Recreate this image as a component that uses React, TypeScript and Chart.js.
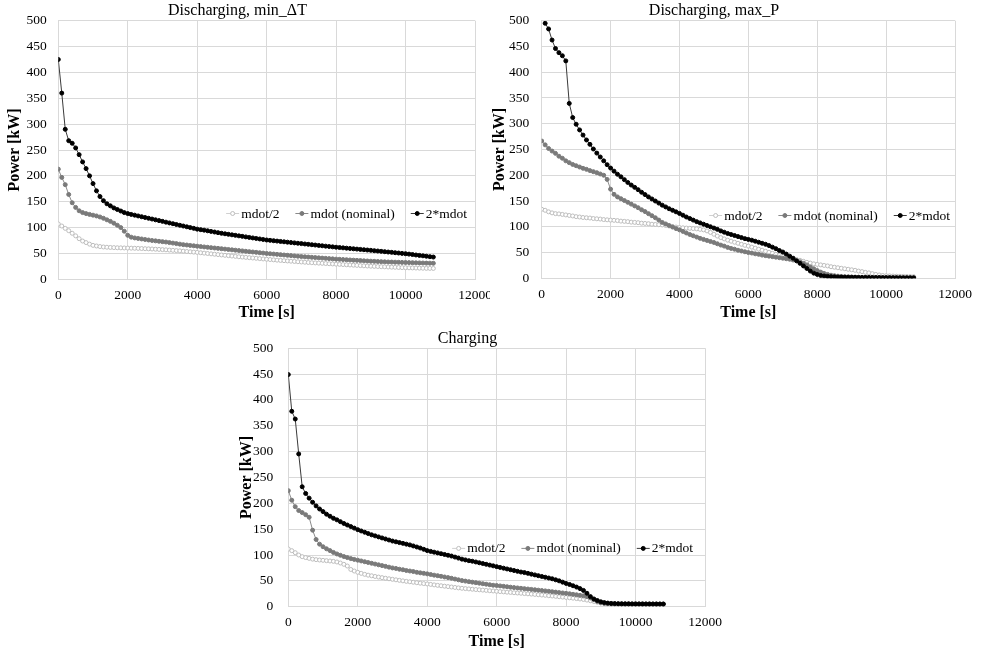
import React, { useEffect, useRef } from "react";
import { Chart, registerables } from "chart.js";

Chart.register(...registerables);

const TIME = [
  0, 100, 200, 300, 400, 500, 600, 700, 800, 900, 1000,
  1100, 1200, 1300, 1400, 1500, 1600, 1700, 1800, 1900, 2000,
  2100, 2200, 2300, 2400, 2500, 2600, 2700, 2800, 2900, 3000,
  3100, 3200, 3300, 3400, 3500, 3600, 3700, 3800, 3900, 4000,
  4100, 4200, 4300, 4400, 4500, 4600, 4700, 4800, 4900, 5000,
  5100, 5200, 5300, 5400, 5500, 5600, 5700, 5800, 5900, 6000,
  6100, 6200, 6300, 6400, 6500, 6600, 6700, 6800, 6900, 7000,
  7100, 7200, 7300, 7400, 7500, 7600, 7700, 7800, 7900, 8000,
  8100, 8200, 8300, 8400, 8500, 8600, 8700, 8800, 8900, 9000,
  9100, 9200, 9300, 9400, 9500, 9600, 9700, 9800, 9900, 10000,
  10100, 10200, 10300, 10400, 10500, 10600, 10700, 10800,
];

const SERIES_LABELS = ["mdot/2", "mdot (nominal)", "2*mdot"];
const CHART_TITLES = ["Discharging, min_\u0394T", "Discharging, max_P", "Charging"];
const X_TITLE = "Time [s]";
const Y_TITLE = "Power [kW]";

// ---- Discharging, min_ΔT ----
const D1_HALF = [
  107, 103, 98.5, 94, 89, 84, 78.5, 74, 71, 68, 65.6,
  64.4, 63.3, 62.5, 62, 61.6, 61.3, 61, 60.8, 60.6, 60.4,
  60.2, 60, 59.8, 59.5, 59.2, 58.9, 58.6, 58.2, 57.8, 57.4,
  57, 56.5, 56, 55.5, 55, 54.4, 53.8, 53.2, 52.6, 52,
  51.3, 50.6, 49.9, 49.2, 48.5, 47.8, 47.1, 46.4, 45.7, 45,
  44.3, 43.6, 43, 42.4, 41.8, 41.2, 40.6, 40, 39.4, 38.8,
  38.2, 37.6, 37, 36.5, 36, 35.5, 35, 34.5, 34, 33.5,
  33, 32.5, 32.1, 31.7, 31.3, 30.9, 30.5, 30.1, 29.7, 29.3,
  28.9, 28.5, 28.1, 27.7, 27.3, 26.9, 26.5, 26.1, 25.7, 25.3,
  25, 24.7, 24.4, 24.1, 23.8, 23.5, 23.2, 22.9, 22.6, 22.4,
  22.2, 22, 21.8, 21.6, 21.4, 21.2, 21.1, 21,
];
const D1_NOM = [
  213, 197, 183, 164, 148, 139, 132.5, 129, 127, 125.5, 124,
  122.5, 120.5, 118, 115, 112, 108.5, 104.5, 100, 93, 85,
  81.5, 80, 79, 78, 77, 76, 75, 74.3, 73.5, 72.8,
  72, 71, 70, 69, 68, 67, 66.3, 65.5, 64.8, 64,
  63.3, 62.6, 61.9, 61.2, 60.5, 59.8, 59.1, 58.4, 57.7, 57,
  56.3, 55.6, 54.9, 54.2, 53.5, 52.8, 52.1, 51.4, 50.7, 50,
  49.4, 48.8, 48.2, 47.6, 47, 46.4, 45.8, 45.2, 44.6, 44,
  43.5, 43, 42.5, 42, 41.5, 41, 40.5, 40, 39.5, 39,
  38.6, 38.2, 37.8, 37.4, 37, 36.6, 36.2, 35.8, 35.4, 35,
  34.7, 34.4, 34.1, 33.8, 33.5, 33.3, 33.1, 32.9, 32.7, 32.5,
  32.3, 32.1, 31.9, 31.7, 31.5, 31.3, 31.2, 31,
];
const D1_DOUBLE = [
  425, 360, 290, 268, 263, 254, 241, 227, 214, 200, 185,
  171, 160, 152, 146, 142, 138, 135, 132, 129, 127,
  125.5, 124, 122.5, 121, 119.5, 118, 116.5, 115, 113.5, 112,
  110.5, 109, 107.5, 106, 104.5, 103, 101.5, 100, 98.5, 97,
  96, 95, 93.8, 92.6, 91.4, 90.2, 89, 88, 87, 86,
  85, 84, 83, 82, 81, 80, 79, 78, 77, 76,
  75.3, 74.6, 73.9, 73.2, 72.5, 71.8, 71.1, 70.4, 69.7, 69,
  68.3, 67.6, 66.9, 66.2, 65.5, 64.8, 64.1, 63.4, 62.7, 62,
  61.4, 60.8, 60.2, 59.6, 59, 58.4, 57.8, 57.2, 56.6, 56,
  55.3, 54.7, 54, 53.4, 52.7, 52.1, 51.4, 50.8, 50.1, 49.5,
  48.7, 47.9, 47, 46.2, 45.4, 44.6, 43.8, 43,
];

// ---- Discharging, max_P ----
const D2_HALF = [
  134, 132, 129, 127, 125.5, 125, 124, 123, 122, 121, 119.7,
  119, 118, 117.5, 117, 116, 115.5, 115, 114, 113.5, 113,
  112.5, 112, 111, 110.5, 110, 109, 108.5, 108, 107, 106.5,
  106, 105, 104.5, 104, 103.5, 102.5, 101.5, 100.5, 99.5, 98.5,
  98, 97.5, 97, 96.5, 96, 95, 94, 92, 89, 85.5,
  82, 79, 76.5, 74, 72, 70, 68, 66, 64, 62.5,
  60.5, 58.5, 56.5, 54.5, 52.5, 50.5, 48.5, 46.5, 44.5, 42.5,
  41, 39.5, 38, 36.5, 35, 33, 31, 29.5, 28, 27,
  26, 25, 24, 22.5, 21.5, 20.5, 19.5, 18.5, 17.5, 16.5,
  15.5, 14, 13, 11.5, 10.5, 9, 7.5, 6.5, 5.5, 5,
  4.7, 4.4, 4.1, 3.9, 3.7, 3.5, 3.3, 3.1,
];
const D2_NOM = [
  266.5, 259, 252, 247, 242.5, 237, 233, 228, 224.5, 221, 218.5,
  216, 213.5, 211.5, 209, 207, 205, 202.5, 200, 192, 173,
  163, 158, 154.5, 151, 147.5, 144, 140.5, 137, 133, 129.5,
  125.5, 121.5, 117.5, 113, 108.5, 105.5, 102.5, 99.5, 96.5, 94,
  91, 88, 85, 82.5, 80, 77.5, 75.5, 73.5, 71.5, 69.5,
  67, 64.5, 62.5, 60, 58, 56.5, 54.5, 53, 51.5, 50,
  49, 47.5, 46.5, 45, 44, 43, 42, 41, 40, 39,
  38, 37, 35.5, 34, 32, 29, 26, 22, 18.5, 15,
  12, 9.5, 7.5, 6, 5, 4.2, 3.6, 3.2, 2.9, 2.6,
  2.4, 2.2, 2, 1.9, 1.8, 1.7, 1.6, 1.5, 1.45, 1.4,
  1.35, 1.3, 1.25, 1.2, 1.2, 1.15, 1.1, 1.1,
];
const D2_DOUBLE = [
  null, 495, 484, 462.5, 446, 438, 432, 422, 339.5, 312, 299,
  288, 278, 268.5, 260, 251, 243, 235.5, 228, 220.5, 214,
  208, 202, 197, 191.5, 186, 181, 176.5, 172, 167, 162.5,
  158, 154, 150, 146, 142, 138.5, 135, 132, 129, 126,
  122.5, 119, 116, 113, 110, 107.5, 105, 102.5, 100, 97.5,
  95, 92, 89.5, 87, 85, 83, 81, 79, 77, 75.5,
  74, 72, 70, 68, 66, 63.5, 60.5, 57.5, 54, 51,
  47, 43, 39, 34, 29, 24, 19, 14, 10, 7.5,
  5.5, 4.5, 3.7, 3.2, 2.8, 2.5, 2.3, 2.1, 2, 1.9,
  1.8, 1.7, 1.6, 1.55, 1.5, 1.45, 1.4, 1.35, 1.3, 1.25,
  1.2, 1.15, 1.1, 1.05, 1, 1, 0.95, 0.9,
];

// ---- Charging ----
const C_HALF = [
  111.6, 108.4, 104.5, 100, 96.8, 95, 93.5, 92, 91, 90.3, 89.7,
  89, 88.4, 87.7, 86.5, 84.5, 82, 78.7, 72, 69, 66.5,
  64.5, 62.6, 61, 59.8, 58.5, 57.3, 56.2, 55, 54, 53,
  52, 51, 50, 49, 48.2, 47.3, 46.4, 45.5, 44.7, 44,
  43.1, 42.2, 41.3, 40.5, 39.7, 38.9, 38.1, 37.2, 36.4, 35.6,
  35, 34.4, 33.8, 33.2, 32.7, 32.1, 31.5, 30.9, 30.4, 29.8,
  29.2, 28.7, 28.1, 27.6, 27, 26.5, 26, 25.4, 24.9, 24.4,
  23.8, 23.2, 22.6, 22, 21.3, 20.7, 20, 19.3, 18.6, 17.9,
  17.2, 16.5, 15.7, 14.9, 14, 12.8, 11.5, 10, 8.7, 7.5,
  6.6, 6, 5.7, 5.5, 5.4, 5.3, 5.3, 5.2, 5.2, 5.2,
  5.1, 5.1, 5.1, 5, 5, 5, 5, 5,
];
const C_NOM = [
  224.5, 206, 193.5, 186, 182, 178, 173, 148, 130, 121, 116,
  112, 108.5, 105, 102, 99.5, 97, 95, 93, 91.5, 90,
  88.5, 87, 85.5, 84, 82.5, 81, 79.5, 78, 76.5, 75,
  74, 72.5, 71.5, 70, 69, 68, 66.5, 65.5, 64.5, 63.5,
  62.3, 61, 60, 58.8, 57.5, 56.3, 55, 53.5, 52, 50.5,
  49.5, 48.5, 47.5, 46.5, 45.5, 44.5, 43.5, 42.5, 41.5, 41,
  40.2, 39.4, 38.6, 37.8, 37, 36.3, 35.6, 34.9, 34.2, 33.5,
  32.8, 32, 31.3, 30.6, 29.8, 29, 28.2, 27.4, 26.6, 25.8,
  25, 24, 23, 22, 21, 19.5, 17, 13.5, 10, 7.5,
  6.3, 5.8, 5.6, 5.5, 5.4, 5.4, 5.3, 5.3, 5.3, 5.2,
  5.2, 5.2, 5.1, 5.1, 5.1, 5.1, 5, 5,
];
const C_DOUBLE = [
  449, 378, 363, 295.5, 232, 219, 210, 202, 195, 189, 184,
  179, 175, 171, 168, 164.5, 161, 158, 155, 152, 149,
  146.5, 144, 141.5, 139, 137, 135, 133, 131, 129, 127,
  125.5, 124, 122.5, 121, 119.5, 117.5, 115.5, 113.5, 111, 108.5,
  107, 105.5, 104, 102.5, 101, 99.5, 98, 96, 94, 92,
  90.5, 89, 88, 86.5, 85, 83.5, 82, 80.5, 79, 77.5,
  76, 74.5, 73, 71.5, 70, 68.5, 67, 66, 64.5, 63,
  61.5, 60, 58.5, 57, 55.5, 54, 52, 50, 47.5, 45,
  43, 40.5, 38, 35, 31.5, 26, 19.5, 15, 12, 9.5,
  8, 7, 6.3, 6, 5.8, 5.6, 5.5, 5.5, 5.4, 5.4,
  5.4, 5.3, 5.3, 5.3, 5.2, 5.2, 5.2, 5.2,
];

const X_TICK_STEP = 2000;
const X_MAX = 12000;
const Y_TICK_STEP = 50;
const Y_MAX = 500;

const FONT = '"Liberation Serif", "Times New Roman", serif';

const STYLES = [
  { line: "#d0d0d0", fill: "#ffffff", border: "#bdbdbd" },
  { line: "#8a8a8a", fill: "#7a7a7a", border: "#7a7a7a" },
  { line: "#3a3a3a", fill: "#000000", border: "#000000" },
];

const inlineLegend = {
  id: "inlineLegend",
  afterDatasetsDraw(chart: any, _args: any, opts: any) {
    const { ctx, chartArea } = chart;
    const n = SERIES_LABELS.length;
    ctx.save();
    ctx.font = "13.5px " + FONT;
    ctx.textBaseline = "middle";
    ctx.textAlign = "left";
    const sym = 13;
    const symGap = 2;
    const itemGap = 16;
    const widths = SERIES_LABELS.map((l) => ctx.measureText(l).width);
    let total = 0;
    widths.forEach((w) => (total += sym + symGap + w));
    total += itemGap * (n - 1);
    let x = chartArea.right - opts.right - total;
    const y = chartArea.top + opts.top;
    for (let i = 0; i < n; i++) {
      const st = STYLES[i];
      ctx.strokeStyle = st.line;
      ctx.lineWidth = 1;
      ctx.beginPath();
      ctx.moveTo(x, y + 0.5);
      ctx.lineTo(x + sym, y + 0.5);
      ctx.stroke();
      ctx.beginPath();
      ctx.arc(x + sym / 2, y + 0.5, 2, 0, Math.PI * 2);
      ctx.fillStyle = st.fill;
      ctx.fill();
      ctx.strokeStyle = st.border;
      ctx.stroke();
      ctx.fillStyle = "#000";
      ctx.fillText(SERIES_LABELS[i], x + sym + symGap, y + 1);
      x += sym + symGap + widths[i] + itemGap;
    }
    ctx.restore();
  },
};

function buildConfig(p: any) {
  const seriesArr = [p.half, p.nom, p.dbl];
  const datasets = seriesArr.map((vals: any[], i: number) => ({
    label: SERIES_LABELS[i],
    data: TIME.map((t, k) => ({ x: t, y: vals[k] })),
    borderColor: STYLES[i].line,
    borderWidth: 1,
    pointRadius: 2,
    pointBorderWidth: 1,
    pointBackgroundColor: STYLES[i].fill,
    pointBorderColor: STYLES[i].border,
    pointHoverRadius: 2,
    tension: 0,
    fill: false,
    spanGaps: false,
    order: 2 - i,
  }));
  return {
    type: "line",
    data: { datasets },
    plugins: [inlineLegend],
    options: {
      responsive: false,
      animation: false,
      devicePixelRatio: 1,
      events: [],
      layout: { padding: { left: 0, top: 0, right: p.padRight, bottom: p.padBottom } },
      plugins: {
        legend: { display: false },
        tooltip: { enabled: false },
        title: {
          display: true,
          text: p.title,
          color: "#000",
          font: { family: FONT, size: 16, weight: "normal", lineHeight: 1.2 },
          padding: { top: p.titlePadTop, bottom: 0 },
        },
        inlineLegend: { right: p.legendRight, top: p.legendTop },
      },
      scales: {
        x: {
          type: "linear",
          min: 0,
          max: X_MAX,
          ticks: {
            stepSize: X_TICK_STEP,
            color: "#000",
            padding: 8,
            maxRotation: 0,
            font: { family: FONT, size: 13.5, lineHeight: 1.2 },
            callback: (v: any) => String(v),
          },
          grid: { color: "#d9d9d9", drawTicks: false, lineWidth: 1 },
          border: { color: "#d9d9d9" },
          title: {
            display: true,
            text: X_TITLE,
            color: "#000",
            font: { family: FONT, size: 16, weight: "bold", lineHeight: 1.2 },
            padding: { top: 0, bottom: 0 },
          },
          afterFit: (s: any) => {
            s.height = p.xHeight;
            s.paddingLeft = 0;
            s.paddingRight = 0;
          },
        },
        y: {
          type: "linear",
          min: 0,
          max: Y_MAX,
          ticks: {
            stepSize: Y_TICK_STEP,
            color: "#000",
            padding: p.yTickPad,
            font: { family: FONT, size: 13.5, lineHeight: 1.2 },
            callback: (v: any) => String(v),
          },
          grid: { color: "#d9d9d9", drawTicks: false, lineWidth: 1 },
          border: { color: "#d9d9d9" },
          title: {
            display: true,
            text: Y_TITLE,
            color: "#000",
            font: { family: FONT, size: 16, weight: "bold", lineHeight: 1.2 },
            padding: { top: p.yTitlePad, bottom: 0 },
          },
          afterFit: (s: any) => {
            s.width = p.yWidth;
            s.paddingTop = 0;
            s.paddingBottom = 0;
          },
        },
      },
    },
  };
}

const PANELS = [
  {
    title: CHART_TITLES[0], half: D1_HALF, nom: D1_NOM, dbl: D1_DOUBLE,
    left: 0, top: 0, width: 496, height: 325, clipWidth: 490,
    yWidth: 58.3, yTitlePad: 5.4, yTickPad: 11.5, titlePadTop: 1.5,
    xHeight: 43.6, padRight: 21, padBottom: 2.1, legendTop: 192.3, legendRight: 8,
  },
  {
    title: CHART_TITLES[1], half: D2_HALF, nom: D2_NOM, dbl: D2_DOUBLE,
    left: 473, top: 0, width: 510, height: 325, clipWidth: 510,
    yWidth: 68.7, yTitlePad: 17.4, yTickPad: 12.4, titlePadTop: 1.5,
    xHeight: 44.6, padRight: 28, padBottom: 2.1, legendTop: 194.3, legendRight: 5,
  },
  {
    title: CHART_TITLES[2], half: C_HALF, nom: C_NOM, dbl: C_DOUBLE,
    left: 230, top: 327, width: 497, height: 326, clipWidth: 497,
    yWidth: 58.3, yTitlePad: 7.1, yTickPad: 15, titlePadTop: 2,
    xHeight: 44.6, padRight: 22, padBottom: 1.7, legendTop: 199.7, legendRight: 12,
  },
];

function Panel({ p }: { p: any }) {
  const ref = useRef<HTMLCanvasElement | null>(null);
  useEffect(() => {
    if (!ref.current) return;
    const chart = new Chart(ref.current, buildConfig(p) as any);
    return () => chart.destroy();
  }, []);
  return (
    <div
      style={{
        position: "absolute",
        left: p.left,
        top: p.top,
        width: p.clipWidth,
        height: p.height,
        overflow: "hidden",
      }}
    >
      <canvas
        ref={ref}
        width={p.width}
        height={p.height}
        style={{ display: "block", width: p.width, height: p.height }}
      />
    </div>
  );
}

export default function App() {
  return (
    <div
      style={{
        position: "absolute",
        left: 0,
        top: 0,
        width: 983,
        height: 653,
        background: "#fff",
        overflow: "hidden",
      }}
    >
      {PANELS.map((p, i) => (
        <Panel key={i} p={p} />
      ))}
    </div>
  );
}
